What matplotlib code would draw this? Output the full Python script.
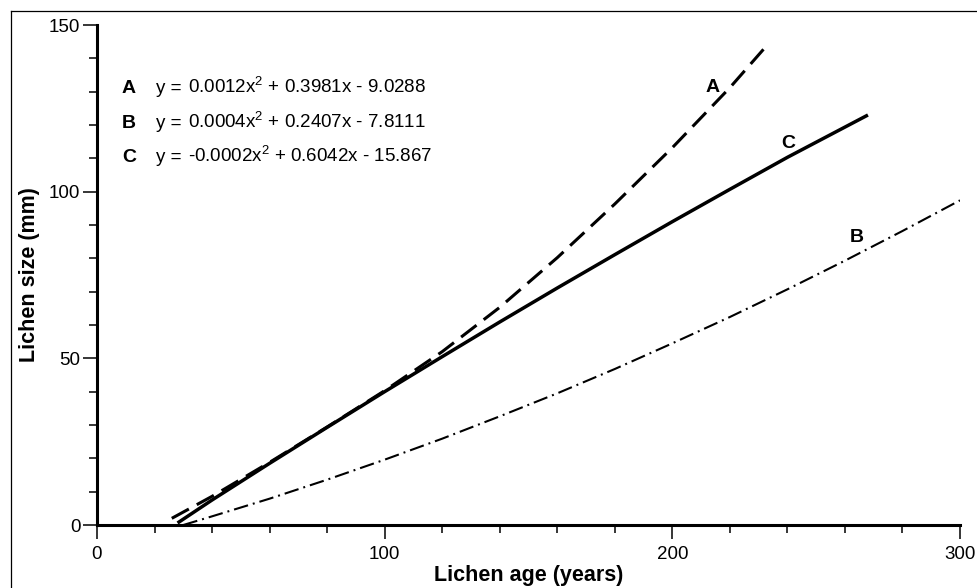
import matplotlib
matplotlib.use("Agg")
import matplotlib.pyplot as plt
from matplotlib.lines import Line2D
from matplotlib.ticker import MultipleLocator

plt.rcParams["font.family"] = ["Liberation Sans", "DejaVu Sans"]
plt.rcParams["mathtext.fontset"] = "custom"
plt.rcParams["mathtext.rm"] = "Liberation Sans"
plt.rcParams["mathtext.default"] = "rm"
plt.rcParams["lines.scale_dashes"] = False

# ── Data ──────────────────────────────────────────────────────────────────────
age_a = [26, 40, 60, 80, 100, 120, 140, 160, 180, 200, 220, 233]
size_a = [2, 8.6, 18.8, 29.4, 40.3, 52, 65.3, 80.2, 96.3, 113.2, 131.2, 144]

age_b = [30, 40, 60, 80, 100, 120, 140, 160, 180, 200, 220, 240, 260, 280, 300]
size_b = [0, 2.6, 7.9, 13.6, 19.6, 25.9, 32.6, 39.5, 46.8, 54.5, 62.4, 70.7, 79.3, 88.2, 97.4]

age_c = [28, 40, 60, 80, 100, 120, 140, 160, 180, 200, 220, 240, 268]
size_c = [0.6, 7.5, 18.5, 29.3, 40, 50.5, 60.9, 71.1, 81.1, 91, 100.7, 110.3, 123]

curve_names = ["A", "B", "C"]
equations = [
    "0.0012x$^{2}$ + 0.3981x - 9.0288",
    "0.0004x$^{2}$ + 0.2407x - 7.8111",
    "-0.0002x$^{2}$ + 0.6042x - 15.867",
]

W, H = 977, 588
fig = plt.figure(figsize=(W / 100, H / 100), dpi=100)
fig.patch.set_facecolor("white")
ax = fig.add_axes([97 / W, 63 / H, 863 / W, 500 / H])


def px(x, y):
    # pixel position (from top-left) -> figure fraction
    return x / W, 1 - y / H


# ── Curves ────────────────────────────────────────────────────────────────────
ax.plot(age_a, size_a, color="black", lw=2.2, dashes=(14, 6.5), solid_capstyle="butt")
ax.plot(age_b, size_b, color="black", lw=1.5, dashes=(10.5, 3.6, 1.4, 3.6))
ax.plot(age_c, size_c, color="black", lw=2.5, solid_capstyle="butt")

# ── Axes ──────────────────────────────────────────────────────────────────────
ax.set_xlim(0, 300)
ax.set_ylim(0, 150)
for s in ["top", "right"]:
    ax.spines[s].set_visible(False)
for s in ["left", "bottom"]:
    ax.spines[s].set_linewidth(2.2)

ax.xaxis.set_major_locator(MultipleLocator(100))
ax.xaxis.set_minor_locator(MultipleLocator(20))
ax.yaxis.set_major_locator(MultipleLocator(50))
ax.yaxis.set_minor_locator(MultipleLocator(10))
ax.tick_params(which="major", direction="out", length=10, width=1.1, labelsize=13.5)
ax.tick_params(which="minor", direction="out", length=5.5, width=1.1)
ax.tick_params(axis="x", which="major", pad=5)
ax.tick_params(axis="y", which="major", pad=2)

ax.set_xlabel("Lichen age (years)", fontsize=15.5, fontweight="bold", va="center")
ax.xaxis.set_label_coords(0.5, -0.1)
ax.set_ylabel("Lichen size (mm)", fontsize=15.5, fontweight="bold", va="center")
ax.yaxis.set_label_coords(-0.078, 0.5)

# ── Equations ─────────────────────────────────────────────────────────────────
rows_y = [93, 127.5, 162]
for name, eq, ry in zip(curve_names, equations, rows_y):
    fig.text(*px(122, ry), name, fontsize=14, fontweight="bold", va="baseline")
    fig.text(*px(156, ry), "y =", fontsize=13.5, va="baseline")
    fig.text(*px(188, ry), eq, fontsize=13.5, va="baseline")

# curve letters
fig.text(*px(713, 87), "A", fontsize=14, fontweight="bold", ha="center", va="center")
fig.text(*px(857, 238), "B", fontsize=14, fontweight="bold", ha="center", va="center")
fig.text(*px(788, 143), "C", fontsize=14, fontweight="bold", ha="center", va="center")

# ── Outer frame (left and top edges visible) ──────────────────────────────────
fig.add_artist(Line2D([11 / W, 11 / W], [0, 1 - 11 / H], transform=fig.transFigure,
                      color="black", lw=0.9))
fig.add_artist(Line2D([11 / W, 1], [1 - 11 / H, 1 - 11 / H], transform=fig.transFigure,
                      color="black", lw=0.9))

fig.savefig("out.png", dpi=100, facecolor="white")
